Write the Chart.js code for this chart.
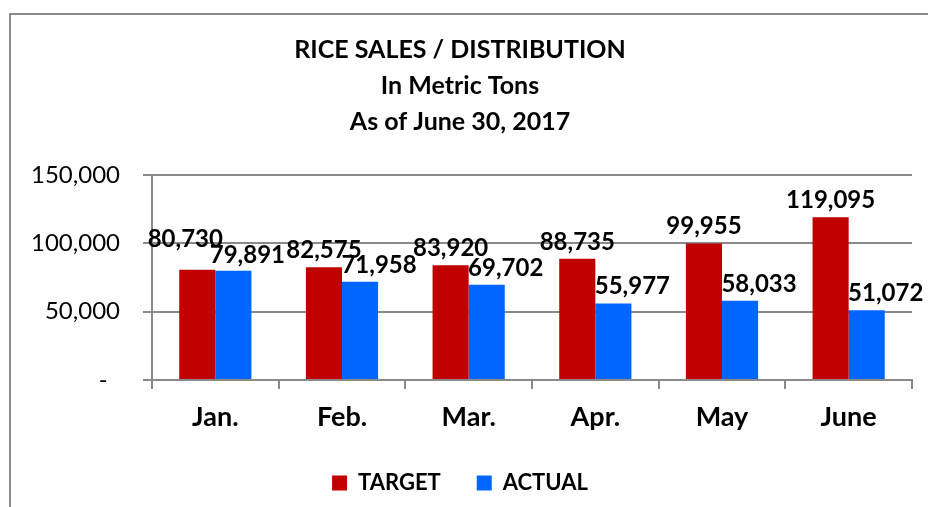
<!DOCTYPE html>
<html>
<head>
<meta charset="utf-8">
<script src="https://cdn.jsdelivr.net/npm/chart.js@4.4.0/dist/chart.umd.min.js"></script>
<style>
  html, body { margin: 0; padding: 0; background: #fff; overflow: hidden; }
  #frame {
    position: absolute; left: 9px; top: 13px; width: 1000px; height: 1000px;
    border-left: 2px solid #8a8a8a; border-top: 2px solid #8a8a8a;
  }
  #wrap { position: absolute; left: 0; top: 0; width: 928px; height: 507px; }
</style>
</head>
<body>
<div id="frame"></div>
<div id="wrap"><canvas id="bar"></canvas></div>
<script>
// chart values
const months = ['Jan.', 'Feb.', 'Mar.', 'Apr.', 'May', 'June'];
const target = [80730, 82575, 83920, 88735, 99955, 119095];
const actual = [79891, 71958, 69702, 55977, 58033, 51072];
const yTicks = [0, 50000, 100000, 150000];
const titleLines = ['RICE SALES / DISTRIBUTION', 'In Metric Tons', 'As of June 30, 2017'];

const FONT = 'Lato';

// draws the number above each bar (Excel style, blue ones nudged right)
const valueLabels = {
    id: 'valueLabels',
    afterDatasetsDraw(chart) {
        const ctx = chart.ctx;
        ctx.save();
        ctx.font = 'bold 24px ' + FONT;
        ctx.fillStyle = '#000';
        ctx.textAlign = 'center';
        ctx.textBaseline = 'alphabetic';
        chart.data.datasets.forEach((ds, i) => {
            const meta = chart.getDatasetMeta(i);
            meta.data.forEach((bar, j) => {
                let dx = i === 1 ? 19 : 0;
                let dy = -9;
                // Jan. labels were pulled apart in the original
                if (i === 0 && j === 0) { dx = -12; dy = -23; }
                if (i === 1 && j === 0) { dx = 14; dy = -8; }
                ctx.fillText(ds.data[j].toLocaleString('en-US'), bar.x + dx, bar.y + dy);
            });
        });
        ctx.restore();
    }
};

new Chart(document.getElementById('bar'), {
    type: 'bar',
    data: {
        labels: months,
        datasets: [
            { label: 'TARGET', data: target, backgroundColor: '#C00000' },
            { label: 'ACTUAL', data: actual, backgroundColor: '#0066FF' }
        ]
    },
    options: {
        responsive: true,
        maintainAspectRatio: false,
        animation: false,
        layout: { padding: { left: 8, right: 16, top: 32, bottom: 14 } },
        datasets: {
            bar: { categoryPercentage: 0.57, barPercentage: 1.0 }
        },
        plugins: {
            title: {
                display: true,
                text: titleLines,
                color: '#000',
                font: { family: FONT, size: 25, weight: 'bold', lineHeight: 1.44 },
                padding: { top: 0, bottom: 35 }
            },
            legend: {
                position: 'bottom',
                maxHeight: 57,
                labels: {
                    boxWidth: 15, boxHeight: 15, padding: 36,
                    color: '#000',
                    font: { family: FONT, size: 22, weight: 'bold' }
                }
            },
            tooltip: { enabled: false }
        },
        scales: {
            x: {
                afterFit(scale) { scale.height = 56; },
                grid: { drawOnChartArea: false, drawTicks: true, tickLength: 9, color: '#8a8a8a', lineWidth: 2 },
                border: { color: '#8a8a8a', width: 2 },
                ticks: { color: '#000', padding: 12, font: { family: FONT, size: 27, weight: 'bold' } }
            },
            y: {
                min: 0, max: 150000,
                afterBuildTicks(scale) { scale.ticks = yTicks.map(v => ({ value: v })); },
                afterFit(scale) { scale.width = 144; },
                grid: { color: '#8a8a8a', lineWidth: 2, tickLength: 9 },
                border: { color: '#8a8a8a', width: 2 },
                ticks: {
                    color: '#000', padding: 23,
                    font: { family: FONT, size: 24 },
                    callback: v => v === 0 ? '-  ' : v.toLocaleString('en-US')
                }
            }
        }
    },
    plugins: [valueLabels]
});
</script>
</body>
</html>
